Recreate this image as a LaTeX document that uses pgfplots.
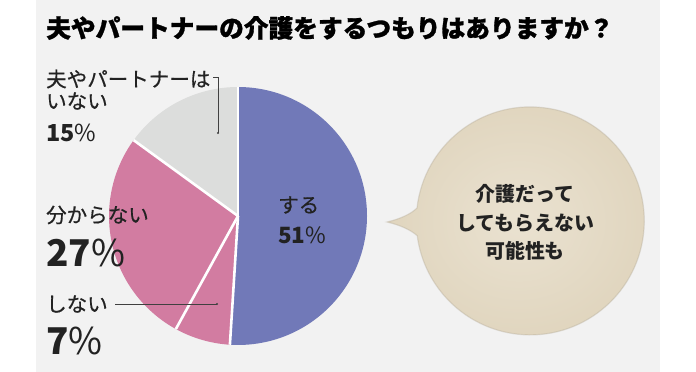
\documentclass[border=0pt]{standalone}
\usepackage{pgfplots}
\pgfplotsset{compat=1.18}
\usepackage{pgfplotstable}
\usepackage{fontspec}
\setmainfont{Noto Sans CJK JP}
\newfontfamily\jpheavy{Noto Sans CJK JP}[FakeBold=1.2]
\newfontfamily\jpmed{Noto Sans CJK JP}[FakeBold=0.5]
\definecolor{panel}{HTML}{F2F2F2}
\definecolor{cSuru}{HTML}{7179B8}
\definecolor{cPink}{HTML}{D27CA1}
\definecolor{cGray}{HTML}{DCDDDC}
\definecolor{beigeIn}{HTML}{EAE2D1}
\definecolor{beigeOut}{HTML}{E0D5BE}
\definecolor{txt}{HTML}{222222}

\pgfplotstableread{
slice value
suru 51
shinai 7
wakaranai 27
inai 15
}\piedata
\pgfplotstablegetelem{0}{value}\of\piedata \let\vA\pgfplotsretval
\pgfplotstablegetelem{1}{value}\of\piedata \let\vB\pgfplotsretval
\pgfplotstablegetelem{2}{value}\of\piedata \let\vC\pgfplotsretval
\pgfplotstablegetelem{3}{value}\of\piedata \let\vD\pgfplotsretval
\pgfmathsetmacro\aA{90-3.6*\vA}
\pgfmathsetmacro\aB{\aA-3.6*\vB}
\pgfmathsetmacro\aC{\aB-3.6*\vC}
\pgfmathsetmacro\aD{\aC-3.6*\vD}
\def\R{129bp}

\begin{document}
\begin{tikzpicture}
\begin{axis}[scale only axis, width=696bp, height=372bp,
  xmin=0, xmax=696, ymin=0, ymax=372, y dir=reverse,
  hide axis, clip=false]
% background
\fill[white] (axis cs:0,0) rectangle (axis cs:696,372);
\fill[panel] (axis cs:36,0) rectangle (axis cs:660,372);
% pie slices
\fill[cSuru] (axis cs:238,216) -- ++(90:\R) arc[start angle=90, end angle=\aA, radius=\R] -- cycle;
\fill[cPink] (axis cs:238,216) -- ++(\aA:\R) arc[start angle=\aA, end angle=\aB, radius=\R] -- cycle;
\fill[cPink] (axis cs:238,216) -- ++(\aB:\R) arc[start angle=\aB, end angle=\aC, radius=\R] -- cycle;
\fill[cGray] (axis cs:238,216) -- ++(\aC:\R) arc[start angle=\aC, end angle=\aD, radius=\R] -- cycle;
\draw[white, line width=2.6bp] (axis cs:238,216) -- ++(90:\R);
\draw[white, line width=2.6bp] (axis cs:238,216) -- ++(\aA:\R);
\draw[white, line width=2.6bp] (axis cs:238,216) -- ++(\aB:\R);
\draw[white, line width=2.6bp] (axis cs:238,216) -- ++(\aC:\R);
% leader lines
\draw[black!75, line width=0.7bp] (axis cs:213,77) -- (axis cs:218,77) -- (axis cs:218,133);
\fill[black!75] (axis cs:218,133) circle[radius=1.2bp];
\draw[black!75, line width=0.7bp] (axis cs:115,304) -- (axis cs:217,304);
\fill[black!75] (axis cs:217,304) circle[radius=1.2bp];
% speech bubble
\shade[inner color=beigeIn, outer color=beigeOut]
  (axis cs:387,222) .. controls (axis cs:400,219) and (axis cs:411,214) .. (axis cs:417,208)
  arc[start angle=173.5, end angle=-172.5, radius=114bp]
  .. controls (axis cs:411,230) and (axis cs:400,225) .. (axis cs:387,222) -- cycle;
\draw[beigeOut!80!black, opacity=0.35, line width=1.2bp]
  (axis cs:387,222) .. controls (axis cs:400,219) and (axis cs:411,214) .. (axis cs:417,208)
  arc[start angle=173.5, end angle=-172.5, radius=114bp]
  .. controls (axis cs:411,230) and (axis cs:400,225) .. (axis cs:387,222) -- cycle;
% title
\node[anchor=west, inner sep=0, font=\fontsize{24.8}{28}\jpheavy\bfseries] at (axis cs:46,28) {夫やパートナーの介護をするつもりはありますか？};
% labels
\node[anchor=west, inner sep=0, text=txt, font=\fontsize{20.6}{24}\jpmed] at (axis cs:46,79) {夫やパートナーは};
\node[anchor=west, inner sep=0, text=txt, font=\fontsize{20.6}{24}\jpmed] at (axis cs:46,101) {いない};
\node[anchor=west, inner sep=0, text=txt, font=\fontsize{23.5}{24}\selectfont] at (axis cs:46,133) {\bfseries 15\mdseries\%};
\node[anchor=west, inner sep=0, text=txt, font=\fontsize{20.6}{24}\jpmed] at (axis cs:46,215) {分からない};
\node[anchor=west, inner sep=0, text=txt, font=\fontsize{37}{40}\selectfont] at (axis cs:46,253) {\bfseries 27\mdseries\%};
\node[anchor=west, inner sep=0, text=txt, font=\fontsize{20.6}{24}\jpmed] at (axis cs:46,304) {しない};
\node[anchor=west, inner sep=0, text=txt, font=\fontsize{37}{40}\selectfont] at (axis cs:46,341) {\bfseries 7\mdseries\%};
\node[anchor=west, inner sep=0, text=txt, font=\fontsize{20.6}{24}\jpmed] at (axis cs:278,205) {する};
\node[anchor=west, inner sep=0, text=txt, font=\fontsize{22.5}{24}\selectfont] at (axis cs:278,235) {\bfseries 51\mdseries\%};
% bubble text
\node[inner sep=0, text=txt, font=\fontsize{20}{24}\selectfont\bfseries] at (axis cs:525,194) {介護だって};
\node[inner sep=0, text=txt, font=\fontsize{20}{24}\selectfont\bfseries] at (axis cs:525,223) {してもらえない};
\node[inner sep=0, text=txt, font=\fontsize{20}{24}\selectfont\bfseries] at (axis cs:525,251) {可能性も};
\end{axis}
\end{tikzpicture}
\end{document}
